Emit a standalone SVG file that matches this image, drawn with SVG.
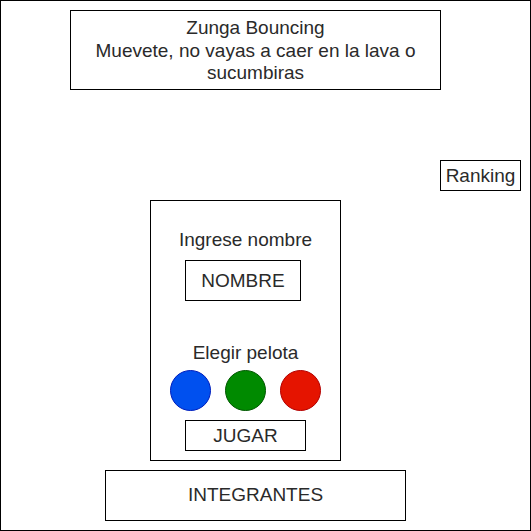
<svg xmlns="http://www.w3.org/2000/svg" width="531" height="531" viewBox="0 0 531 531">
<style>
.box{fill:#fff;stroke:#000;stroke-width:1}
text{font-family:"Liberation Sans",Arial,sans-serif;font-size:19px;fill:#2a2a2a;text-anchor:middle}
</style>
<rect width="531" height="531" fill="#fff"/>
<g id="frame"><rect class="box" x="0.5" y="0.5" width="530" height="530" fill="none"/></g>
<g id="title">
<rect class="box" x="70.5" y="10.5" width="370" height="79"/>
<text x="255.5" y="34">Zunga Bouncing</text>
<text x="255.5" y="56.5">Muevete, no vayas a caer en la lava o</text>
<text x="255.5" y="79">sucumbiras</text>
</g>
<g id="ranking">
<rect class="box" x="440.5" y="160.5" width="80" height="30"/>
<text x="480.5" y="182">Ranking</text>
</g>
<g id="panel">
<rect class="box" x="150.5" y="200.5" width="190" height="260"/>
<text x="245.5" y="245.5">Ingrese nombre</text>
<text x="245.5" y="359">Elegir pelota</text>
</g>
<g id="nombre">
<rect class="box" x="185.5" y="260.5" width="115" height="40"/>
<text x="243" y="286.5">NOMBRE</text>
</g>
<g id="ball-blue"><circle cx="190.5" cy="390.5" r="20" fill="#0050ef" stroke="#001dbc"/></g>
<g id="ball-green"><circle cx="245.5" cy="390.5" r="20" fill="#008a00" stroke="#005700"/></g>
<g id="ball-red"><circle cx="300.5" cy="390.5" r="20" fill="#e51400" stroke="#b20000"/></g>
<g id="jugar">
<rect class="box" x="185.5" y="420.5" width="120" height="30"/>
<text x="245.5" y="442">JUGAR</text>
</g>
<g id="integrantes">
<rect class="box" x="105.5" y="470.5" width="300" height="50"/>
<text x="255.5" y="501">INTEGRANTES</text>
</g>
<g id="connectors"/>
</svg>
